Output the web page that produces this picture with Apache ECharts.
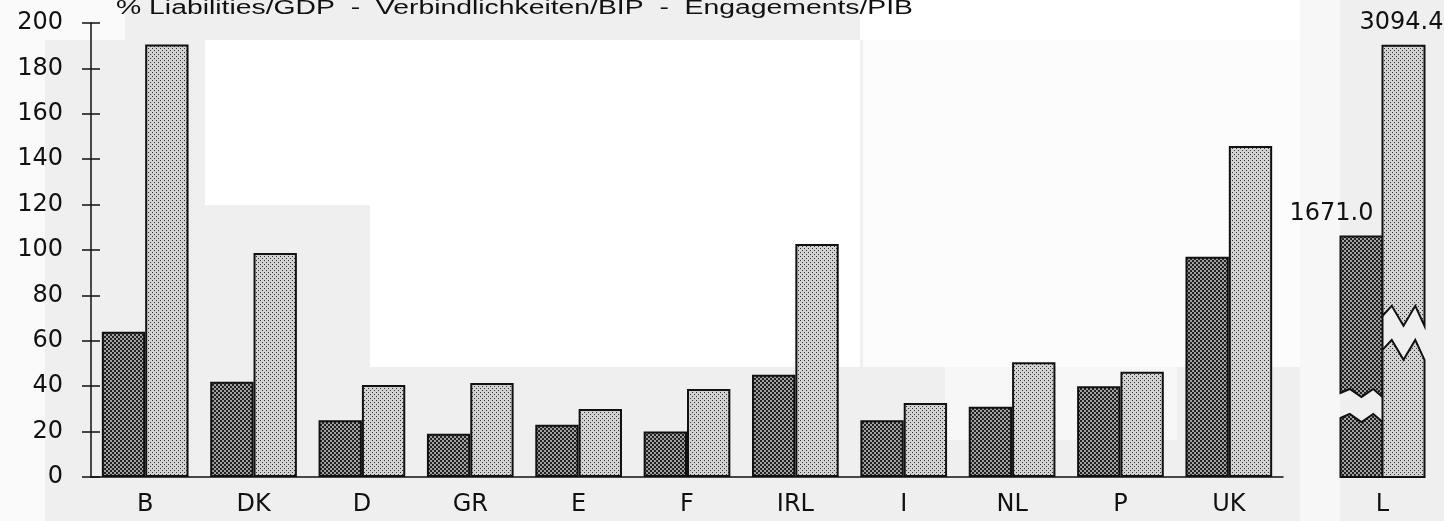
<!DOCTYPE html>
<html lang="en">
<head>
<meta charset="UTF-8">
<title>Liabilities/GDP</title>
<script src="https://cdn.jsdelivr.net/npm/echarts@6/dist/echarts.min.js"></script>
<style>
    html, body { margin: 0; padding: 0; background: #fff; }
    #wrap { width: 1444px; height: 521px; }
</style>
</head>
<body>

<div id="wrap"></div>

<script>
    // data
    var countries = ['B', 'DK', 'D', 'GR', 'E', 'F', 'IRL', 'I', 'NL', 'P', 'UK'];
    var darkValues = [64, 42, 25, 19, 23, 20, 45, 25, 31, 40, 97];
    var lightValues = [190.5, 98.7, 40.5, 41.4, 30, 38.8, 102.6, 32.6, 50.6, 46.4, 145.8];

    // Luxembourg, drawn on a broken bar
    var luxCategory = ['L'];
    var luxValues = [1671.0, 3094.4];
    var luxDrawn = [106, 190];     // height of the broken bar on the 0-200 scale
    var luxBreakLo = [26, 56];     // where the lower piece ends
    var luxBreakHi = [37, 71];     // where the upper piece starts

    var titleText = '% Liabilities/GDP  -  Verbindlichkeiten/BIP  -  Engagements/PIB';

    var font = '"DejaVu Sans", sans-serif';

    // dotted fills like the screen tones of the print
    function dots(bg, fg, size, dot) {
        var c = document.createElement('canvas');
        c.width = size;
        c.height = size;
        var g = c.getContext('2d');
        g.fillStyle = bg;
        g.fillRect(0, 0, size, size);
        g.fillStyle = fg;
        g.fillRect(0, 0, dot, dot);
        g.fillRect(size / 2, size / 2, dot, dot);
        return c;
    }
    var darkFill = {image: dots('#a0a0a0', '#222222', 4, 2), repeat: 'repeat'};
    var lightFill = {image: dots('#d2d2d2', '#333333', 4, 1), repeat: 'repeat'};

    // title is wider in the scan than any installed font, stretch it
    var meas = document.createElement('canvas').getContext('2d');
    meas.font = '20px "Liberation Sans"';
    var titleScale = 797 / meas.measureText(titleText).width;

    var luxData = [];
    for (var k = 0; k < luxValues.length; k++) {
        luxData.push([0, luxDrawn[k], luxBreakLo[k], luxBreakHi[k], k, luxValues[k]]);
    }

    function zig(x0, w, y, a) {
        var f = [0, 0.22, 0.5, 0.78, 1];
        var d = [0, -a, a, -a, a];
        var pts = [];
        for (var i = 0; i < f.length; i++) {
            pts.push([x0 + f[i] * w, y + d[i]]);
        }
        return pts;
    }

    function renderLux(params, api) {
        var slot = api.value(4);
        var band = api.size([1, 0])[0];
        var w = band * 0.4;
        var base = api.coord([0, 0]);
        var x0 = base[0] - w + slot * w;
        var yTop = api.coord([0, api.value(1)])[1];
        var yLo = api.coord([0, api.value(2)])[1];
        var yHi = api.coord([0, api.value(3)])[1];
        var amp = slot === 0 ? 4 : 10;
        var fill = slot === 0 ? darkFill : lightFill;

        var upper = [[x0, yTop], [x0 + w, yTop]].concat(zig(x0, w, yHi, amp).reverse());
        var lower = zig(x0, w, yLo, amp).concat([[x0 + w, base[1]], [x0, base[1]]]);

        var label = {
            type: 'text',
            x: slot === 0 ? x0 + w - 9 : x0 + w / 2 - 2,
            y: yTop - 23,
            style: {
                text: api.value(5).toFixed(1),
                font: '24px ' + font,
                fill: '#111',
                align: slot === 0 ? 'right' : 'center',
                verticalAlign: 'middle'
            }
        };
        var st = {fill: fill, stroke: '#111', lineWidth: 2};
        return {
            type: 'group',
            children: [
                {type: 'polygon', shape: {points: upper}, style: st},
                {type: 'polygon', shape: {points: lower}, style: st},
                label
            ]
        };
    }

    var myChart = echarts.init(document.getElementById('wrap'));

    var bgRects = [
        [0, 0, 45, 521, '#fafafa'],
        [0, 0, 125, 40, '#fafafa'],
        [205, 40, 655, 165, '#ffffff'],
        [370, 205, 490, 162, '#ffffff'],
        [860, 0, 440, 40, '#ffffff'],
        [863, 40, 437, 327, '#fcfcfc'],
        [945, 367, 232, 73, '#f7f7f7'],
        [1300, 0, 40, 521, '#f7f7f7']
    ];
    var graphics = bgRects.map(function (r) {
        return {
            type: 'rect', left: r[0], top: r[1], z: -10, silent: true,
            shape: {width: r[2], height: r[3]},
            style: {fill: r[4]}
        };
    });
    graphics.push({
        type: 'text', left: 116, top: -2, z: 10,
        scaleX: titleScale,
        style: {text: titleText, font: '20px "Liberation Sans"', fill: '#111'}
    });

    var axisLineStyle = {color: '#111', width: 1.5};
    var labelStyle = {fontFamily: font, fontSize: 24, color: '#111'};

    var option = {
        animation: false,
        backgroundColor: '#efefef',
        graphic: graphics,
        grid: [
            {left: 91, width: 1192, top: 23, bottom: 44},
            {left: 1330, width: 105, top: 23, bottom: 44}
        ],
        xAxis: [
            {
                type: 'category', gridIndex: 0, data: countries, position: 'bottom',
                axisLine: {lineStyle: axisLineStyle},
                axisTick: {length: 6, lineStyle: axisLineStyle},
                axisLabel: Object.assign({margin: 16}, labelStyle)
            },
            {
                type: 'category', gridIndex: 0, data: countries, position: 'bottom',
                axisLine: {show: false},
                axisTick: {inside: true, length: 6, lineStyle: axisLineStyle},
                axisLabel: {show: false}
            },
            {
                type: 'category', gridIndex: 1, data: luxCategory, position: 'bottom',
                axisLine: {show: false},
                axisTick: {show: false},
                axisLabel: Object.assign({margin: 16}, labelStyle)
            }
        ],
        yAxis: [
            {
                type: 'value', gridIndex: 0, min: 0, max: 200, interval: 20,
                axisLine: {show: true, lineStyle: axisLineStyle},
                axisTick: {show: true, length: 9, lineStyle: axisLineStyle},
                axisLabel: Object.assign({margin: 28}, labelStyle),
                splitLine: {show: false}
            },
            {
                type: 'value', gridIndex: 0, min: 0, max: 200, interval: 20, position: 'left',
                axisLine: {show: false},
                axisTick: {show: true, inside: true, length: 9, lineStyle: axisLineStyle},
                axisLabel: {show: false},
                splitLine: {show: false}
            },
            {
                type: 'value', gridIndex: 1, min: 0, max: 200, show: false
            }
        ],
        series: [
            {
                name: 'dark', type: 'bar', xAxisIndex: 0, yAxisIndex: 0,
                data: darkValues, barGap: 0, barCategoryGap: '20%',
                itemStyle: {color: darkFill, borderColor: '#111', borderWidth: 2}
            },
            {
                name: 'light', type: 'bar', xAxisIndex: 0, yAxisIndex: 0,
                data: lightValues, barGap: 0, barCategoryGap: '20%',
                itemStyle: {color: lightFill, borderColor: '#111', borderWidth: 2}
            },
            {
                name: 'L', type: 'custom', xAxisIndex: 2, yAxisIndex: 2,
                renderItem: renderLux,
                encode: {x: 0, y: 1},
                data: luxData
            }
        ]
    };

    myChart.setOption(option);
</script>
</body>
</html>
